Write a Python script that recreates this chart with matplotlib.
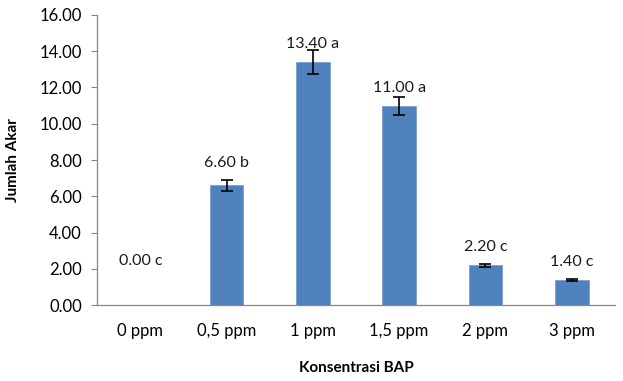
import matplotlib
matplotlib.use('Agg')
import matplotlib.pyplot as plt
import numpy as np

plt.rcParams['font.family'] = ['Lato', 'DejaVu Sans']

# data
categories = ['0 ppm', '0,5 ppm', '1 ppm', '1,5 ppm', '2 ppm', '3 ppm']
means = [0.00, 6.60, 13.40, 11.00, 2.20, 1.40]
errors = [0.0, 0.30, 0.65, 0.50, 0.08, 0.04]
letters = ['c', 'b', 'a', 'a', 'c', 'c']
label_offsets = [32, 16, 13, 13, 13, 13]  # points above bar top

fig = plt.figure(figsize=(6.23, 3.81), dpi=100)
ax = fig.add_axes([0.156, 0.199, 0.831, 0.762])

x = np.arange(len(categories))
ax.bar(x, means, width=0.39, color='#4F81BD', edgecolor='#7A9FCF', linewidth=0.6, zorder=2)
has_err = np.array(means) > 0
ax.errorbar(x[has_err], np.array(means)[has_err], yerr=np.array(errors)[has_err], fmt='none',
            ecolor='black', elinewidth=1.2, capsize=4, capthick=1.2, zorder=3)

for xi, m, l, off in zip(x, means, letters, label_offsets):
    ax.annotate(f'{m:.2f} {l}', (xi, m), xytext=(0, off), textcoords='offset points',
                ha='center', va='center', fontsize=11.5, color='#1a1a1a')

ax.set_xlim(-0.5, len(categories) - 0.5)
ax.set_ylim(0, 16)
ax.set_yticks(np.arange(0, 17, 2))
ax.set_yticklabels([f'{v:.2f}' for v in np.arange(0, 17, 2)], fontsize=12)
ax.set_xticks(x)
ax.set_xticklabels(categories, fontsize=12)
ax.tick_params(axis='x', length=0, pad=13)
ax.tick_params(axis='y', length=4, color='#868686', pad=7)

for s in ['top', 'right']:
    ax.spines[s].set_visible(False)
for s in ['left', 'bottom']:
    ax.spines[s].set_color('#868686')
    ax.spines[s].set_linewidth(0.9)

ax.set_xlabel('Konsentrasi BAP', fontsize=11, fontweight='bold', labelpad=16)
ax.set_ylabel('Jumlah Akar', fontsize=11, fontweight='bold', labelpad=14)

fig.savefig('out.png', dpi=100, facecolor='white')
